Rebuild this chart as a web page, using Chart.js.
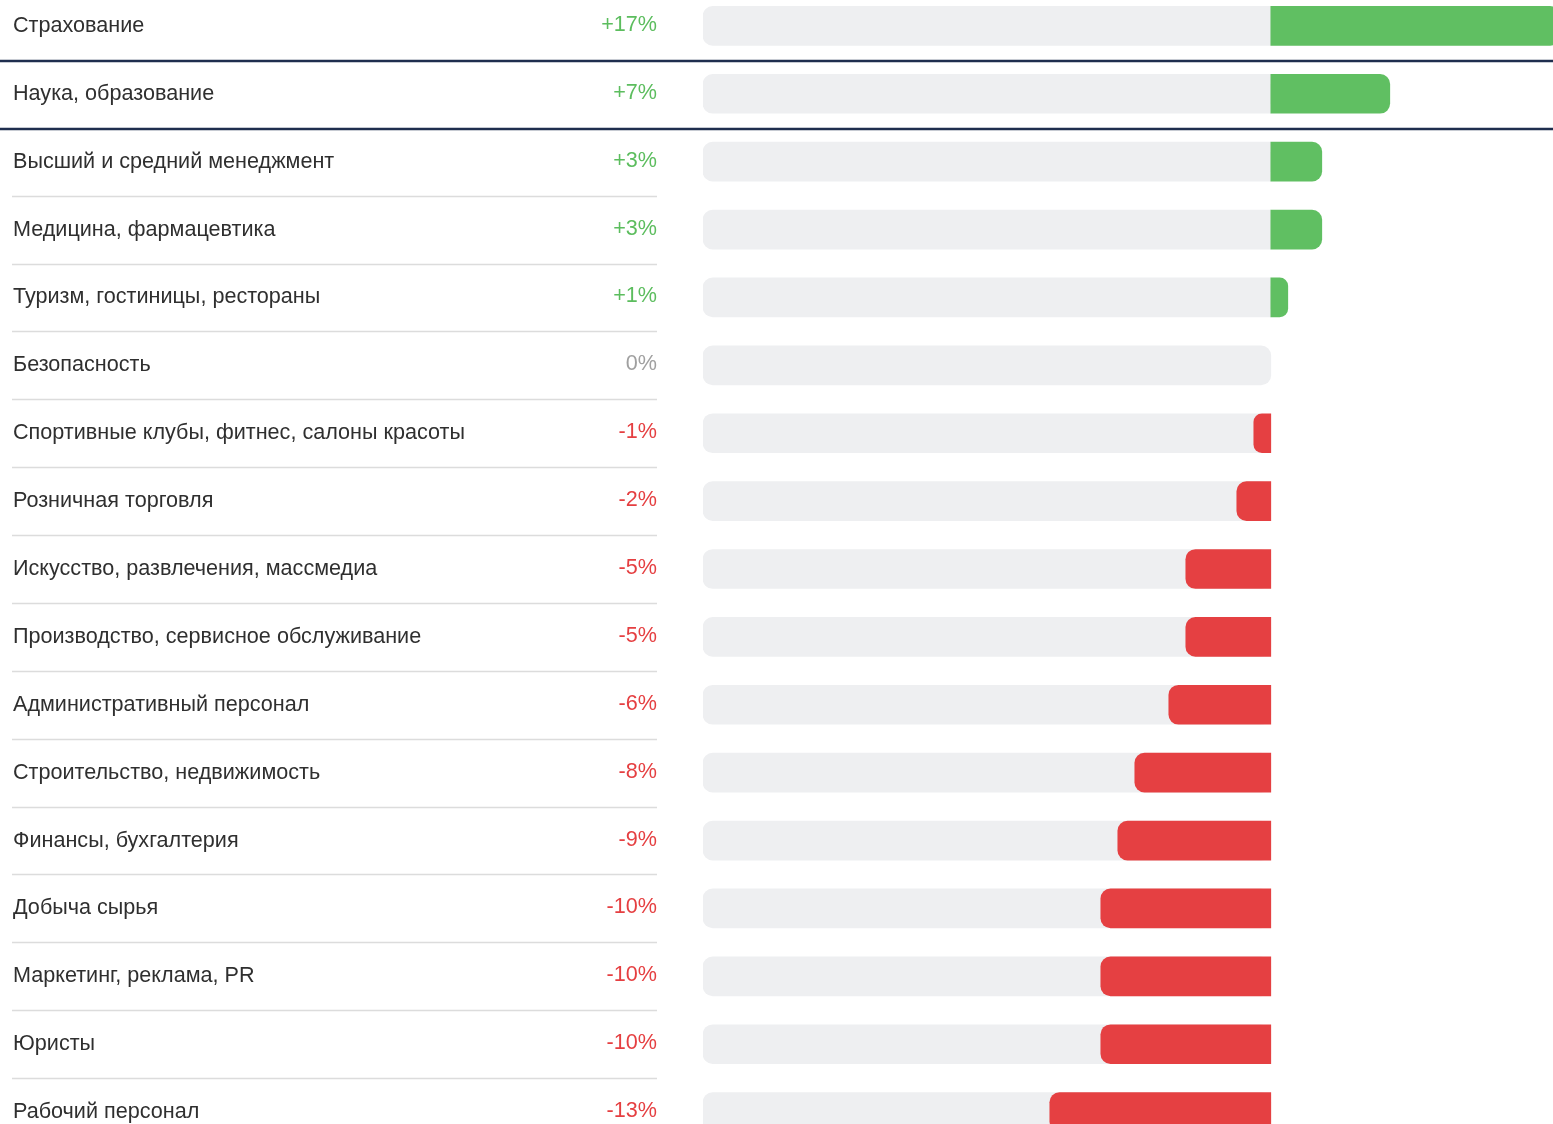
<!DOCTYPE html>
<html lang="ru">
<head>
<meta charset="utf-8">
<title>Изменение по отраслям</title>
<script src="https://cdn.jsdelivr.net/npm/chart.js@4.4.1/dist/chart.umd.min.js"></script>
<style>
  html, body { margin: 0; padding: 0; background: #fff; overflow: hidden; }
  body { width: 1553px; height: 1124px; position: relative; }
  #chart { position: absolute; left: 0; top: -24px; }
</style>
</head>
<body>
<canvas id="chart" width="1553" height="1186"></canvas>
<script>
// Categories and change in %
const CATEGORIES = [
  'Страхование',
  'Наука, образование',
  'Высший и средний менеджмент',
  'Медицина, фармацевтика',
  'Туризм, гостиницы, рестораны',
  'Безопасность',
  'Спортивные клубы, фитнес, салоны красоты',
  'Розничная торговля',
  'Искусство, развлечения, массмедиа',
  'Производство, сервисное обслуживание',
  'Административный персонал',
  'Строительство, недвижимость',
  'Финансы, бухгалтерия',
  'Добыча сырья',
  'Маркетинг, реклама, PR',
  'Юристы',
  'Рабочий персонал',
];
const CHANGES = [17, 7, 3, 3, 1, 0, -1, -2, -5, -5, -6, -8, -9, -10, -10, -10, -13];

// grey track runs from TRACK_MIN to zero; visible axis ends at AXIS_MAX
const TRACK_MIN = -33.4;
const AXIS_MAX = 16.6;
const HIGHLIGHT_ROW = 1; // 'Наука, образование' is framed by dark lines

const GREEN = '#60bf62';
const RED = '#e54042';
const TRACK = '#eeeff1';
const FONT = '"Liberation Sans", Arial, sans-serif';

function valueText(v) {
  if (v > 0) return '+' + v + '%';
  return v + '%';
}
function valueColor(v) {
  if (v > 0) return '#5cbd5e';
  if (v < 0) return '#e53f41';
  return '#a0a0a0';
}

// separators and the value column, placed by the y scale
const rowDecor = {
  id: 'rowDecor',
  afterDraw(chart) {
    const { ctx, scales: { y }, width } = chart;
    ctx.save();
    for (let i = 0; i < CATEGORIES.length - 1; i++) {
      const yy = (y.getPixelForValue(i) + y.getPixelForValue(i + 1)) / 2;
      const dark = i === HIGHLIGHT_ROW - 1 || i === HIGHLIGHT_ROW;
      ctx.beginPath();
      if (dark) {
        ctx.strokeStyle = '#1f2e4e';
        ctx.lineWidth = 2.5;
        ctx.moveTo(0, Math.round(yy) + 1);
        ctx.lineTo(width, Math.round(yy) + 1);
      } else {
        ctx.strokeStyle = '#dcdcdc';
        ctx.lineWidth = 1.5;
        ctx.moveTo(12, Math.round(yy) + 0.5);
        ctx.lineTo(657, Math.round(yy) + 0.5);
      }
      ctx.stroke();
    }
    ctx.font = '21.6px ' + FONT;
    ctx.textAlign = 'right';
    ctx.textBaseline = 'middle';
    CHANGES.forEach((v, i) => {
      ctx.fillStyle = valueColor(v);
      ctx.fillText(valueText(v), 657, y.getPixelForValue(i) - 1);
    });
    ctx.restore();
  }
};

new Chart(document.getElementById('chart'), {
  type: 'bar',
  data: {
    labels: CATEGORIES,
    datasets: [
      {
        label: 'Изменение',
        data: CHANGES,
        backgroundColor: CHANGES.map(v => v > 0 ? GREEN : (v < 0 ? RED : 'rgba(0,0,0,0)')),
        borderRadius: 10,
        borderSkipped: 'start',
        barThickness: 39,
        order: 0,
      },
      {
        label: 'track',
        data: CHANGES.map(() => [TRACK_MIN, 0]),
        backgroundColor: TRACK,
        // square right end where a green bar continues the track
        borderRadius: ctx => CHANGES[ctx.dataIndex] > 0
          ? { topLeft: 10, bottomLeft: 10, topRight: 0, bottomRight: 0 }
          : 10,
        borderSkipped: false,
        barThickness: 39,
        order: 1,
      },
    ],
  },
  options: {
    indexAxis: 'y',
    responsive: false,
    animation: false,
    events: [],
    grouped: false,
    layout: { padding: { left: 13, right: 0, top: 0, bottom: 0 } },
    plugins: {
      legend: { display: false },
      tooltip: { enabled: false },
    },
    scales: {
      x: {
        type: 'linear',
        min: TRACK_MIN,
        max: AXIS_MAX,
        display: false,
        grid: { display: false },
      },
      y: {
        type: 'category',
        grid: { display: false },
        border: { display: false },
        afterFit(scale) { scale.width = 690; },
        ticks: {
          autoSkip: false,
          crossAlign: 'far',
          color: '#2f2f2f',
          font: { family: FONT, size: 21.6 },
        },
      },
    },
  },
  plugins: [rowDecor],
});
</script>
</body>
</html>
